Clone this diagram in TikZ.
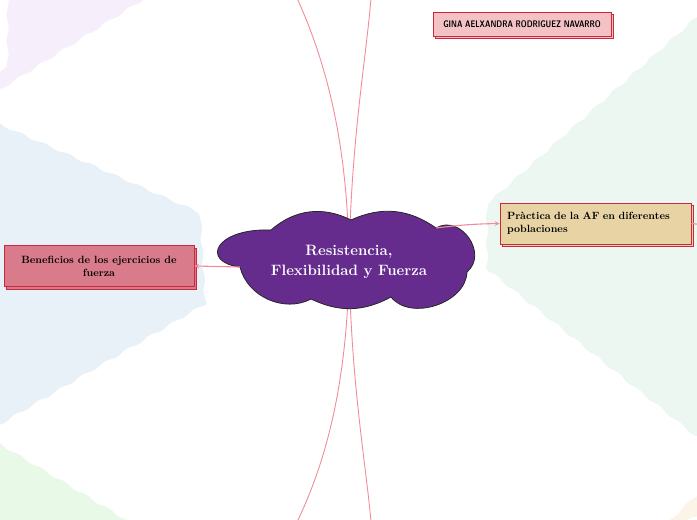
\documentclass[tikz,border=0pt]{standalone}
\usepackage{fontspec}
\usetikzlibrary{shapes.geometric,shadows,decorations.pathmorphing}
\definecolor{mmpurple}{HTML}{652C8E}
\definecolor{mmlink}{HTML}{F28B9B}
\definecolor{mmedge}{HTML}{C9283E}
\definecolor{mmrose}{HTML}{D97B8A}
\definecolor{mmsand}{HTML}{E8D3A4}
\definecolor{mmpink}{HTML}{F4C2C5}
\definecolor{mmlav}{HTML}{F6EFFB}
\definecolor{mmblue}{HTML}{E8F1F7}
\definecolor{mmmint}{HTML}{EDF7F1}
\definecolor{mmgreen}{HTML}{E9F9E7}
\definecolor{mmcream}{HTML}{FBF5E7}
\tikzset{
  zone/.style={decorate,decoration={snake,amplitude=1.1pt,segment length=26pt}},
  topic/.style={draw=mmedge,line width=0.9pt,inner sep=0pt,minimum height=41pt,
    font=\bfseries\fontsize{10.5}{13}\selectfont,
    copy shadow={shadow xshift=2.5pt,shadow yshift=-2.5pt}},
  link/.style={mmlink,line width=1.1pt},
  branch/.style={mmlink,line width=0.9pt}
}
\begin{document}
\begin{tikzpicture}[x=1pt,y=-1pt]
  \useasboundingbox (0,0) rectangle (697,520);
  \clip (0,0) rectangle (697,520);
  % background zones
  \fill[mmlav,zone] (-10,96) -- (152,-6) -- (-10,-6) -- cycle;
  \fill[mmblue,zone] (-10,120) -- (198,212) -- (203,300) -- (-10,425) -- cycle;
  \fill[mmmint,zone] (707,8) -- (496,196) -- (496,266) -- (707,435) -- cycle;
  \fill[mmgreen,zone] (-10,438) -- (140,528) -- (-10,528) -- cycle;
  \fill[mmcream,zone] (662,528) -- (707,485) -- (707,528) -- cycle;
  % centre and branches
  \coordinate (c) at (349,262);
  \coordinate (tl) at (297,-2);
  \coordinate (tr) at (371,-2);
  \coordinate (bl) at (297,522);
  \coordinate (br) at (371,522);
  \draw[branch] (c) .. controls (348,140) and (325,60) .. (tl);
  \draw[branch] (c) .. controls (351,140) and (366,60) .. (tr);
  \draw[branch] (c) .. controls (348,384) and (325,464) .. (bl);
  \draw[branch] (c) .. controls (351,384) and (366,464) .. (br);
  % cloud
  \filldraw[fill=mmpurple,draw=black!85,line width=0.8pt]
    (271,230) to[bend left=34] (351,220) to[bend left=30] (436,228)
    to[bend left=85,looseness=1.35] (467,272) to[bend left=70] (391,297)
    to[bend left=27] (311,299) to[bend left=52] (240,267)
    .. controls (200,262) and (215,228) .. cycle;
  \node[ellipse,minimum width=264pt,minimum height=94pt,align=center,text=white,
    font=\bfseries\fontsize{15}{20}\selectfont] (core) at (c) {Resistencia,\\Flexibilidad y Fuerza};
  \coordinate (cw) at (240,267);
  \coordinate (ce) at (436,228);
  % topics
  \node[topic,fill=mmrose,minimum width=190pt,align=center] (benef) at (99,266)
    {Beneficios de los ejercicios de\\fuerza};
  \node[topic,fill=mmsand,minimum width=191pt,text width=177pt,align=left] (prac) at (595.5,223.5)
    {Pràctica de la AF en diferentes\\poblaciones};
  \node[draw=mmedge,line width=0.9pt,fill=mmpink,minimum width=178pt,minimum height=24pt,inner sep=0pt,
    copy shadow={shadow xshift=2.5pt,shadow yshift=-2.5pt},font=\sffamily\bfseries\fontsize{9.5}{10}\selectfont]
    (author) at (522,24) {\scalebox{0.78}[1]{GINA AELXANDRA RODRIGUEZ NAVARRO}};
  \coordinate (off) at (705,225);
  \draw[link,-stealth] (cw) -- (benef.east);
  \draw[link,-stealth] (ce) to[bend left=3] (prac.west);
  \draw[link] (prac.east) -- (off);
\end{tikzpicture}
\end{document}
